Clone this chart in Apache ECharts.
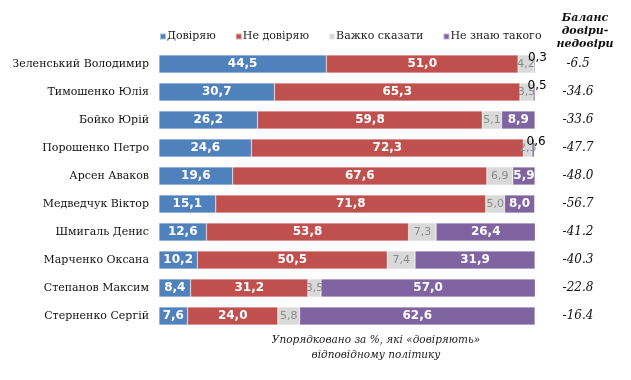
<!DOCTYPE html>
<html><head><meta charset="utf-8">
<script src="https://cdn.jsdelivr.net/npm/echarts@6/dist/echarts.min.js"></script>
<style>html,body{margin:0;padding:0;background:#fff}#c{width:631px;height:380px}</style>
</head><body><div id="c"></div>
<script>
const categories = ["Зеленський Володимир","Тимошенко Юлія","Бойко Юрій","Порошенко Петро","Арсен Аваков","Медведчук Віктор","Шмигаль Денис","Марченко Оксана","Степанов Максим","Стерненко Сергій"];
const seriesNames = ["Довіряю","Не довіряю","Важко сказати","Не знаю такого"];
const trust = [44.5,30.7,26.2,24.6,19.6,15.1,12.6,10.2,8.4,7.6];
const distrust = [51.0,65.3,59.8,72.3,67.6,71.8,53.8,50.5,31.2,24.0];
const hardToSay = [4.2,3.5,5.1,2.3,6.9,5.0,7.3,7.4,3.5,5.8];
const dontKnow = [0.3,0.5,8.9,0.6,5.9,8.0,26.4,31.9,57.0,62.6];
const balance = ["-6.5","-34.6","-33.6","-47.7","-48.0","-56.7","-41.2","-40.3","-22.8","-16.4"];
const balanceTitle = "Баланс\nдовіри-\nнедовіри";
const note = "Упорядковано за %, які «довіряють»\nвідповідному політику";
const colors = ["#4F81BD","#C0504D","#D9D9D9","#8064A2"];

const serif = "'DejaVu Serif', serif";
const fmt = p => p.value.toFixed(1).replace('.', ',');
const whiteLbl = {show:true, position:'inside', color:'#fff', fontWeight:'bold', fontSize:12, fontFamily:"'DejaVu Sans', sans-serif", formatter: fmt};
const greyLbl = {show:true, position:'inside', color:'#8a8a8a', fontWeight:'normal', fontSize:11, fontFamily:"'DejaVu Sans', sans-serif", formatter: fmt};

function mk(name, data, color, lbl, small) {
  return {
    name, type:'bar', stack:'t', barWidth:18,
    itemStyle:{color, borderColor:'rgba(255,255,255,0.5)', borderWidth:0.5},
    label: lbl,
    data: data.map(v => {
      if (small && v < 1) return {value:v, label:{show:true, position:'inside', color:'#000', fontWeight:'normal', fontSize:12, fontFamily:"'DejaVu Sans', sans-serif", offset:[3,-6]}};
      return v;
    })
  };
}

const chart = echarts.init(document.getElementById('c'), null, {renderer:'canvas'});
chart.setOption({
  animation:false,
  color: colors,
  legend:{
    data: seriesNames, left:154, top:26, itemWidth:6, itemHeight:6, itemGap:19, icon:'rect',
    textStyle:{fontFamily:serif, fontSize:11, color:'#222', padding:[0,0,0,-4]}
  },
  title:[
    {text: balanceTitle, left:580, top:7, textAlign:'center',
     textStyle:{fontFamily:serif, fontStyle:'italic', fontWeight:'bold', fontSize:11, lineHeight:13, color:'#111', align:'center'}},
    {text: note, left:371, top:328, textAlign:'center',
     textStyle:{fontFamily:serif, fontStyle:'italic', fontWeight:'normal', fontSize:10.5, lineHeight:15, color:'#222', align:'center'}}
  ],
  grid:{left:159, right:96, top:50, height:280},
  xAxis:{type:'value', min:0, max:100, show:false},
  yAxis:[
    {type:'category', data:categories, inverse:true, axisLine:{show:false}, axisTick:{show:false},
     axisLabel:{fontFamily:serif, fontSize:11, color:'#111', margin:10}},
    {type:'category', data:balance, inverse:true, position:'right', axisLine:{show:false}, axisTick:{show:false},
     axisLabel:{fontFamily:serif, fontStyle:'italic', fontSize:12, color:'#111', margin:43, align:'center'}}
  ],
  series:[
    mk(seriesNames[0], trust, colors[0], whiteLbl),
    mk(seriesNames[1], distrust, colors[1], whiteLbl),
    mk(seriesNames[2], hardToSay, colors[2], greyLbl),
    mk(seriesNames[3], dontKnow, colors[3], whiteLbl, true)
  ]
});
</script></body></html>
